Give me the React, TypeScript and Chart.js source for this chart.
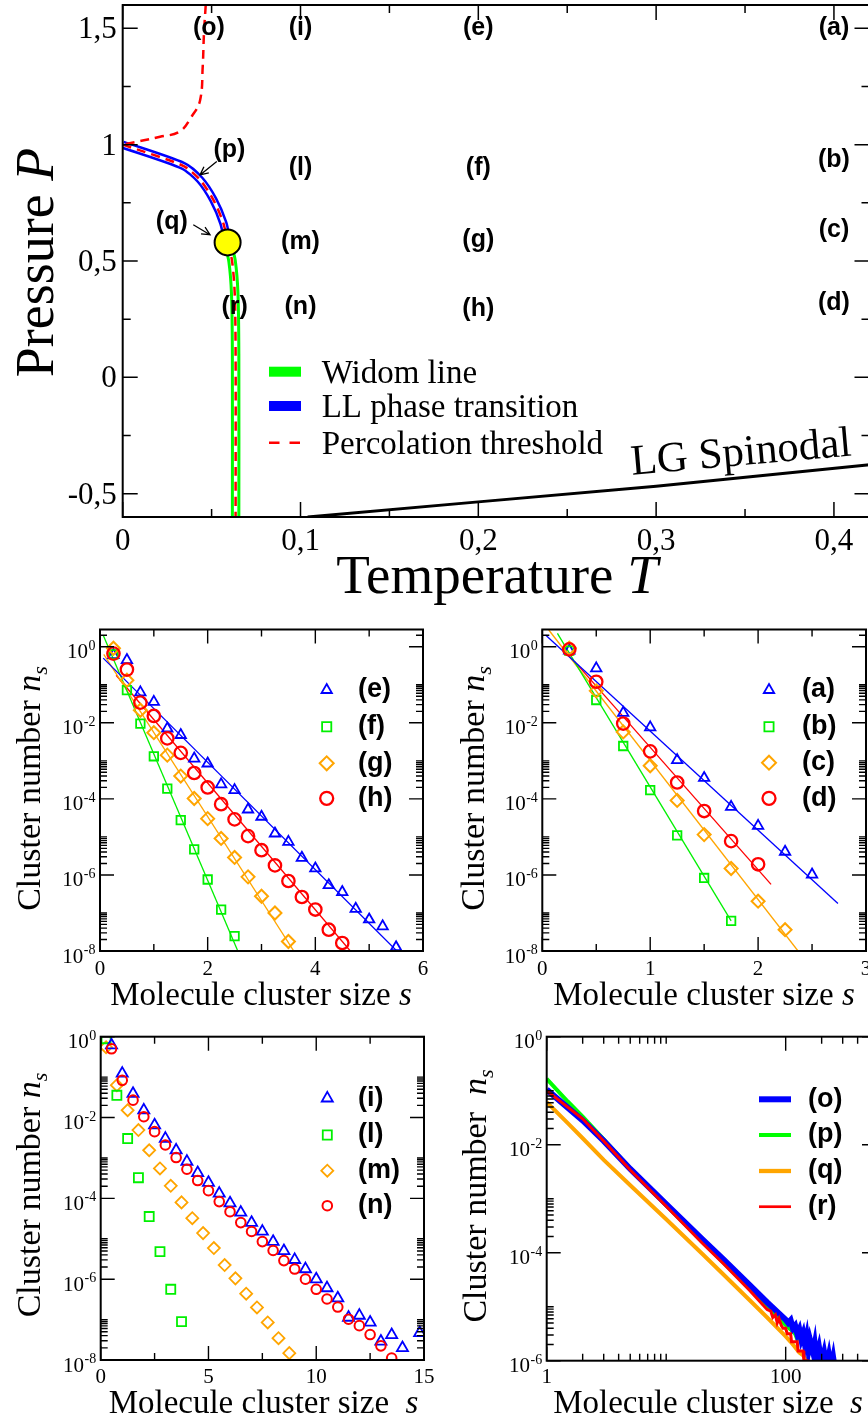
import React, { useEffect, useRef } from 'react';
import { Chart, registerables } from 'chart.js';

Chart.register(...registerables);

const SERIF = "'Liberation Serif', 'Times New Roman', serif";
const SANS = "'Liberation Sans', Arial, sans-serif";
const BLUE = '#0000ff';
const GREEN = '#00f000';
const ORANGE = '#ffa500';
const RED = '#ff0000';

/* ================= top panel : phase diagram ================= */
const tempTicks = [0, 0.1, 0.2, 0.3, 0.4];
const tempTickLabels = ['0', '0,1', '0,2', '0,3', '0,4'];
const tempMinorTicks = [0.05, 0.15, 0.25, 0.35];
const pressTicks = [-0.5, 0, 0.5, 1, 1.5];
const pressTickLabels = ['-0,5', '0', '0,5', '1', '1,5'];
const pressMinorTicks = [-0.25, 0.25, 0.75, 1.25];

const llT = [0, 0.034, 0.0435, 0.051, 0.0566, 0.059];
const llP = [1.0, 0.909, 0.849, 0.763, 0.663, 0.58];
const widomT = [0.059, 0.0615, 0.063, 0.0635, 0.0635];
const widomP = [0.58, 0.5, 0.36, 0.1, -0.6];
const percT = [0.0467, 0.0457, 0.045, 0.0435, 0.0388, 0.032, 0.021, 0];
const percP = [1.6, 1.478, 1.335, 1.19, 1.121, 1.056, 1.034, 1.0];
const spinT = [0.104, 0.2, 0.3, 0.42];
const spinP = [-0.6, -0.535, -0.468, -0.375];
const critT = [0.059];
const critP = [0.58];

const stateNames = ['(o)', '(i)', '(e)', '(a)', '(p)', '(l)', '(f)', '(b)', '(q)', '(m)', '(g)', '(c)', '(r)', '(n)', '(h)', '(d)'];
const stateT = [0.0485, 0.1, 0.2, 0.4, 0.06, 0.1, 0.2, 0.4, 0.0276, 0.1, 0.2, 0.4, 0.063, 0.1, 0.2, 0.4];
const stateP = [1.5, 1.5, 1.5, 1.5, 0.978, 0.9, 0.9, 0.935, 0.666, 0.583, 0.59, 0.634, 0.3, 0.304, 0.295, 0.32];
const arrowFromT = [0.0529, 0.0397];
const arrowFromP = [0.9275, 0.656];
const arrowToT = [0.0435, 0.0491];
const arrowToP = [0.87, 0.613];
const phaseLegend = ['Widom line', 'LL phase transition', 'Percolation threshold'];

/* ================= cluster panels ================= */
const sQuarter = [0.25, 0.5, 0.75, 1, 1.25, 1.5, 1.75, 2, 2.25, 2.5, 2.75, 3, 3.25, 3.5, 3.75, 4, 4.25, 4.5, 4.75, 5, 5.25, 5.5];
// panel (e)-(h): log10 of n_s
const logNsE = [-0.22, -0.35, -1.2, -1.45, -2.15, -2.32, -2.94, -3.07, -3.62, -3.77, -4.28, -4.47, -4.91, -5.13, -5.55, -5.83, -6.27, -6.45, -6.89, -7.17, -7.35, -7.9];
const logNsF = [-0.2, -1.14, -2.02, -2.88, -3.73, -4.56, -5.33, -6.12, -6.91, -7.61];
const logNsG = [-0.04, -0.88, -1.67, -2.26, -2.85, -3.4, -3.99, -4.52, -5.04, -5.54, -6.05, -6.56, -7.0, -7.75];
const logNsH = [-0.18, -0.6, -1.47, -1.82, -2.41, -2.79, -3.32, -3.7, -4.14, -4.54, -4.98, -5.35, -5.75, -6.16, -6.58, -6.91, -7.44, -7.79];
const fitES = [0.06, 5.55]; const fitELog = [-0.3, -8.05];
const fitFS = [0.06, 2.56]; const fitFLog = [0.3, -8.0];
const fitGS = [0.07, 3.6]; const fitGLog = [-0.2, -8.0];
const fitHS = [0.3, 4.65]; const fitHLog = [-0.75, -8.0];

// panel (a)-(d)
const logNsA = [-0.1, -0.57, -1.74, -2.12, -2.98, -3.45, -4.21, -4.71, -5.39, -5.99];
const logNsB = [-0.1, -1.4, -2.61, -3.77, -4.96, -6.08, -7.21];
const logNsC = [-0.04, -1.16, -2.24, -3.13, -4.04, -4.94, -5.83, -6.69, -7.44];
const logNsD = [-0.07, -0.92, -2.02, -2.75, -3.57, -4.32, -5.11, -5.72];
const fitAS = [0.03, 2.74]; const fitALog = [0.31, -6.75];
const fitBS = [0.14, 1.75]; const fitBLog = [0.35, -7.21];
const fitCS = [0.06, 2.37]; const fitCLog = [0.44, -8.0];
const fitDS = [0.3, 2.12]; const fitDLog = [-0.39, -6.25];

// panel (i),(l),(m),(n)
const sHalf = [0.5, 1, 1.5, 2, 2.5, 3, 3.5, 4, 4.5, 5, 5.5, 6, 6.5, 7, 7.5, 8, 8.5, 9, 9.5, 10, 10.5, 11, 11.5, 12, 12.5, 13, 13.5, 14, 14.8];
const sOdd = [0.25, 0.75, 1.25, 1.75, 2.25, 2.75, 3.25, 3.75, 4.25, 4.75, 5.25, 5.75, 6.25, 6.75, 7.25, 7.75, 8.25, 8.75];
const logNsI = [-0.21, -0.91, -1.41, -1.82, -2.19, -2.52, -2.81, -3.09, -3.37, -3.61, -3.88, -4.12, -4.35, -4.6, -4.82, -5.07, -5.3, -5.52, -5.75, -6.0, -6.22, -6.47, -6.95, -6.9, -7.07, -7.54, -7.38, -7.7, -7.33];
const logNsN = [-0.3, -1.08, -1.57, -1.98, -2.35, -2.68, -2.99, -3.28, -3.56, -3.81, -4.08, -4.33, -4.6, -4.82, -5.07, -5.29, -5.54, -5.75, -6.0, -6.25, -6.49, -6.69, -6.99, -7.15, -7.37, -7.65, -7.95];
const logNsL = [-0.05, -1.45, -2.52, -3.49, -4.45, -5.32, -6.25, -7.05];
const logNsM = [-0.26, -1.2, -1.82, -2.31, -2.81, -3.26, -3.69, -4.1, -4.49, -4.86, -5.23, -5.65, -5.98, -6.36, -6.7, -7.07, -7.46, -7.83];

// panel (o)-(r), log-log
const sO = [1, 2, 3, 5, 10, 20, 30, 50, 70, 100, 105, 110, 115, 120, 125, 130, 135, 140, 145, 150, 155, 160, 170, 175, 180, 190, 200, 210, 220, 230, 240, 250, 260, 270];
const logNsO = [-0.98, -1.55, -1.93, -2.45, -3.1, -3.75, -4.12, -4.6, -4.92, -5.24, -5.3, -5.25, -5.4, -5.35, -5.5, -5.42, -5.6, -5.5, -5.7, -5.55, -5.8, -5.62, -5.85, -5.7, -5.95, -5.75, -6.05, -5.85, -6.1, -5.9, -6.15, -5.95, -6.2, -6.1];
const sP = [1, 1.5, 2, 3, 5, 10, 20, 30, 50, 70, 100, 110, 120, 125, 130, 140, 150, 160, 170, 180, 190, 200, 215, 230];
const logNsP = [-0.78, -1.2, -1.48, -1.9, -2.44, -3.12, -3.8, -4.18, -4.67, -5.0, -5.34, -5.42, -5.5, -5.6, -5.55, -5.68, -5.72, -5.85, -5.78, -5.95, -5.85, -6.05, -5.95, -6.1];
const sQ = [1, 1.5, 2, 3, 5, 10, 20, 30, 50, 70, 100, 110, 120, 130, 140, 150, 160];
const logNsQ = [-1.21, -1.6, -1.88, -2.28, -2.75, -3.38, -4.02, -4.4, -4.88, -5.2, -5.55, -5.65, -5.75, -5.85, -5.9, -6.0, -6.05];
const sR = [1, 2, 3, 5, 10, 20, 30, 50, 70, 75, 78, 82, 85, 88, 92, 95, 100, 103, 110, 112, 125, 127, 140, 142, 155];
const logNsR = [-1.0, -1.52, -1.93, -2.47, -3.14, -3.82, -4.2, -4.7, -5.05, -5.08, -5.2, -5.15, -5.3, -5.22, -5.35, -5.4, -5.4, -5.5, -5.5, -5.65, -5.65, -5.82, -5.82, -6.0, -6.0];

const linXTicksA = [0, 2, 4, 6]; const linXMinorA = [1, 3, 5];
const linXTicksB = [0, 1, 2, 3]; const linXMinorB = [0.5, 1.5, 2.5];
const linXTicksC = [0, 5, 10, 15]; const linXMinorC = [2.5, 7.5, 12.5];
const logXTicksD = [1, 100]; const logXLabelsD = ['1', '100'];
const yTicks8 = [1e-8, 1e-6, 1e-4, 1e-2, 1];
const yExps8 = ['-8', '-6', '-4', '-2', '0'];
const yTicks6 = [1e-6, 1e-4, 1e-2, 1];
const yExps6 = ['-6', '-4', '-2', '0'];
const legendA = ['(e)', '(f)', '(g)', '(h)'];
const legendB = ['(a)', '(b)', '(c)', '(d)'];
const legendC = ['(i)', '(l)', '(m)', '(n)'];
const legendD = ['(o)', '(p)', '(q)', '(r)'];

/* ================= helpers ================= */
const pts = (xs: number[], ys: number[]) => ys.map((y, i) => ({ x: xs[i], y }));
const ptsLog = (xs: number[], ls: number[]) => ls.map((l, i) => ({ x: xs[i], y: Math.pow(10, l) }));

function minorLog(fromExp: number, toExp: number) {
  const out: number[] = [];
  for (let e = fromExp; e <= toExp; e += 2) for (let k = 2; k <= 10; k++) out.push(k * Math.pow(10, e));
  return out;
}

type Seg = { t: string; f: string; dy?: number };
function rich(ctx: CanvasRenderingContext2D, segs: Seg[], x: number, y: number, rot: number) {
  ctx.save();
  ctx.translate(x, y);
  ctx.rotate(rot);
  ctx.textAlign = 'left';
  ctx.textBaseline = 'alphabetic';
  const ws = segs.map((s) => { ctx.font = s.f; return ctx.measureText(s.t).width; });
  let cx = -ws.reduce((a, b) => a + b, 0) / 2;
  segs.forEach((s, i) => { ctx.font = s.f; ctx.fillText(s.t, cx, s.dy || 0); cx += ws[i]; });
  ctx.restore();
}

function drawMarker(ctx: CanvasRenderingContext2D, kind: string, x: number, y: number, r: number, color: string, lw: number) {
  ctx.save();
  ctx.strokeStyle = color;
  ctx.lineWidth = lw;
  ctx.beginPath();
  if (kind === 'triangle') {
    for (let k = 0; k < 3; k++) {
      const a = (k * 2 * Math.PI) / 3;
      const px = x + Math.sin(a) * r, py = y - Math.cos(a) * r;
      if (k === 0) ctx.moveTo(px, py); else ctx.lineTo(px, py);
    }
    ctx.closePath();
  } else if (kind === 'rect') {
    const s = r * Math.SQRT1_2;
    ctx.rect(x - s, y - s, 2 * s, 2 * s);
  } else if (kind === 'rectRot') {
    ctx.moveTo(x - r, y); ctx.lineTo(x, y - r); ctx.lineTo(x + r, y); ctx.lineTo(x, y + r); ctx.closePath();
  } else {
    ctx.arc(x, y, r, 0, Math.PI * 2);
  }
  ctx.stroke();
  ctx.restore();
}

function arrow(ctx: CanvasRenderingContext2D, x1: number, y1: number, x2: number, y2: number) {
  const a = Math.atan2(y2 - y1, x2 - x1), L = 9;
  ctx.beginPath();
  ctx.moveTo(x1, y1); ctx.lineTo(x2, y2);
  ctx.moveTo(x2 - L * Math.cos(a - 0.45), y2 - L * Math.sin(a - 0.45));
  ctx.lineTo(x2, y2);
  ctx.lineTo(x2 - L * Math.cos(a + 0.45), y2 - L * Math.sin(a + 0.45));
  ctx.stroke();
}

type Geo = { X: (v: number) => number; Y: (v: number) => number; l: number; r: number; t: number; b: number };
type Frame = {
  ox: number; oy: number;
  xMajor: number[]; xMinor: number[]; yMajor: number[]; yMinor: number[];
  majorLen: number; minorLen: number; borderW: number; tickW: number;
  extra: (ctx: CanvasRenderingContext2D, g: Geo) => void;
};

function framePlugin(f: Frame) {
  return {
    id: 'frame',
    afterDatasetsDraw(chart: any) {
      const ctx: CanvasRenderingContext2D = chart.ctx;
      const xs = chart.scales.x, ys = chart.scales.y, a = chart.chartArea;
      const g: Geo = {
        X: (v) => xs.getPixelForValue(v) + f.ox,
        Y: (v) => ys.getPixelForValue(v) + f.oy,
        l: a.left + f.ox, r: a.right + f.ox, t: a.top + f.oy, b: a.bottom + f.oy,
      };
      ctx.save();
      ctx.translate(-f.ox, -f.oy);
      ctx.strokeStyle = '#000';
      ctx.lineWidth = f.tickW;
      ctx.beginPath();
      const vx = (vals: number[], len: number) => vals.forEach((v) => {
        const x = g.X(v);
        if (x < g.l - 0.5 || x > g.r + 0.5) return;
        ctx.moveTo(x, g.b); ctx.lineTo(x, g.b - len);
        ctx.moveTo(x, g.t); ctx.lineTo(x, g.t + len);
      });
      const vy = (vals: number[], len: number) => vals.forEach((v) => {
        const y = g.Y(v);
        if (y < g.t - 0.5 || y > g.b + 0.5) return;
        ctx.moveTo(g.l, y); ctx.lineTo(g.l + len, y);
        ctx.moveTo(g.r, y); ctx.lineTo(g.r - len, y);
      });
      vx(f.xMajor, f.majorLen); vx(f.xMinor, f.minorLen);
      vy(f.yMajor, f.majorLen); vy(f.yMinor, f.minorLen);
      ctx.stroke();
      ctx.lineWidth = f.borderW;
      ctx.strokeRect(g.l, g.t, g.r - g.l, g.b - g.t);
      ctx.fillStyle = '#000';
      f.extra(ctx, g);
      ctx.restore();
    },
  };
}

function lineDs(data: any[], color: string, width: number, order: number, extra: any = {}) {
  return { data, borderColor: color, borderWidth: width, pointRadius: 0, fill: false, tension: 0, clip: 0, order, ...extra };
}
function markDs(data: any[], color: string, style: string, r: number, order: number, lw = 1.8) {
  return {
    data, showLine: false, borderColor: color, pointStyle: style, pointRadius: r, pointHoverRadius: r,
    pointBorderColor: color, pointBackgroundColor: 'rgba(0,0,0,0)', pointBorderWidth: lw, order,
  };
}

function config(pad: any, xs: any, ys: any, datasets: any[], frame: Frame) {
  return {
    type: 'line',
    data: { datasets },
    options: {
      responsive: false,
      animation: false,
      events: [],
      layout: { padding: pad, autoPadding: false },
      plugins: { legend: { display: false }, tooltip: { enabled: false } },
      scales: { x: { ...xs, display: false }, y: { ...ys, display: false } },
    },
    plugins: [framePlugin(frame)],
  };
}

type LegItem = { label: string; color: string; kind: string; r: number; lw: number };
type Decor = {
  xVals: number[]; xLabels: string[]; xLabOff: number; yVals: number[]; yExps: string[];
  xTitle: Seg[]; xTitleX: number; xTitleY: number; yTitle: Seg[]; yTitleX: number; yTitleY: number;
  legend: LegItem[]; legMarkX: number; legTextX: number; legRows: number[];
};
function panelDecor(p: Decor) {
  return (ctx: CanvasRenderingContext2D, g: Geo) => {
    ctx.fillStyle = '#000';
    ctx.font = `21px ${SERIF}`;
    ctx.textAlign = 'center';
    ctx.textBaseline = 'alphabetic';
    p.xVals.forEach((v, i) => ctx.fillText(p.xLabels[i], g.X(v), g.b + p.xLabOff));
    ctx.textAlign = 'right';
    p.yVals.forEach((v, i) => {
      const y = g.Y(v);
      ctx.font = `14px ${SERIF}`;
      const w = ctx.measureText(p.yExps[i]).width;
      ctx.fillText(p.yExps[i], g.l - 4.5, y + 3);
      ctx.font = `21px ${SERIF}`;
      ctx.fillText('10', g.l - 4.5 - w - 0.5, y + 11.5);
    });
    rich(ctx, p.xTitle, p.xTitleX, p.xTitleY, 0);
    rich(ctx, p.yTitle, p.yTitleX, p.yTitleY, -Math.PI / 2);
    p.legend.forEach((it, i) => {
      const y = p.legRows[i];
      if (it.kind === 'line') {
        ctx.strokeStyle = it.color; ctx.lineWidth = it.lw;
        ctx.beginPath(); ctx.moveTo(p.legMarkX - 16, y); ctx.lineTo(p.legMarkX + 16, y); ctx.stroke();
      } else {
        drawMarker(ctx, it.kind, p.legMarkX, y, it.r, it.color, it.lw);
      }
      ctx.fillStyle = '#000';
      ctx.font = `bold 27px ${SANS}`;
      ctx.textAlign = 'left';
      ctx.textBaseline = 'middle';
      ctx.fillText(it.label, p.legTextX, y);
    });
  };
}

const xTitleSegs = (extraSpace: boolean): Seg[] => [
  { t: extraSpace ? 'Molecule cluster size  ' : 'Molecule cluster size ', f: `33px ${SERIF}` },
  { t: 's', f: `italic 33px ${SERIF}` },
];
const yTitleSegs = (extraSpace: boolean): Seg[] => [
  { t: extraSpace ? 'Cluster number  ' : 'Cluster number ', f: `34px ${SERIF}` },
  { t: 'n', f: `italic 34px ${SERIF}` },
  { t: 's', f: `italic 22px ${SERIF}`, dy: 7 },
];

/* ================= chart specs ================= */
type Spec = { ox: number; oy: number; w: number; h: number; make: () => any };

const topSpec: Spec = {
  ox: 0, oy: 0, w: 900, h: 612,
  make: () => config(
    { left: 122.7, top: 5, right: 30.5, bottom: 95 },
    { type: 'linear', min: 0, max: 0.42 },
    { type: 'linear', min: -0.6, max: 1.6 },
    [
      lineDs(pts(spinT, spinP), '#000', 3, 10),
      lineDs(pts(llT, llP), BLUE, 8.5, 9, { tension: 0.25 }),
      lineDs(pts(widomT, widomP), '#00ff00', 9.5, 8, { tension: 0.3 }),
      lineDs(pts(llT, llP), '#ffffff', 3.5, 7, { tension: 0.25 }),
      lineDs(pts(widomT, widomP), '#ffffff', 3.5, 7, { tension: 0.3 }),
      lineDs(pts(percT, percP), RED, 2.5, 6, { tension: 0.4, borderDash: [9, 6] }),
      lineDs(pts(llT, llP), RED, 2.5, 6, { tension: 0.25, borderDash: [9, 6] }),
      lineDs(pts(widomT, widomP), RED, 2.5, 6, { tension: 0.3, borderDash: [9, 6] }),
      {
        data: pts(critT, critP), showLine: false, pointRadius: 13, pointHoverRadius: 13, pointStyle: 'circle',
        pointBackgroundColor: '#ffff00', pointBorderColor: '#000', pointBorderWidth: 2, borderColor: '#000', order: 1,
      },
    ],
    {
      ox: 0, oy: 0,
      xMajor: tempTicks, xMinor: tempMinorTicks, yMajor: pressTicks, yMinor: pressMinorTicks,
      majorLen: 15, minorLen: 8, borderW: 2, tickW: 1.5,
      extra: (ctx, g) => {
        ctx.fillStyle = '#000';
        ctx.font = `31px ${SERIF}`;
        ctx.textAlign = 'center';
        ctx.textBaseline = 'alphabetic';
        tempTicks.forEach((v, i) => ctx.fillText(tempTickLabels[i], g.X(v), g.b + 33));
        ctx.textAlign = 'right';
        pressTicks.forEach((v, i) => ctx.fillText(pressTickLabels[i], g.l - 6, g.Y(v) + 10));
        rich(ctx, [{ t: 'Temperature ', f: `55px ${SERIF}` }, { t: 'T', f: `italic 55px ${SERIF}` }], 497, 593, 0);
        rich(ctx, [{ t: 'Pressure ', f: `54px ${SERIF}` }, { t: 'P', f: `italic 54px ${SERIF}` }], 53, 262.5, -Math.PI / 2);
        ctx.font = `bold 25px ${SANS}`;
        ctx.textAlign = 'center';
        ctx.textBaseline = 'middle';
        stateNames.forEach((s, i) => ctx.fillText(s, g.X(stateT[i]), g.Y(stateP[i])));
        ctx.strokeStyle = '#000';
        ctx.lineWidth = 1.3;
        arrowFromT.forEach((_, i) => arrow(ctx, g.X(arrowFromT[i]), g.Y(arrowFromP[i]), g.X(arrowToT[i]), g.Y(arrowToP[i])));
        // legend
        const rows = [371.7, 406, 442.7];
        ctx.lineWidth = 10;
        ctx.strokeStyle = '#00ff00';
        ctx.beginPath(); ctx.moveTo(269, rows[0]); ctx.lineTo(301, rows[0]); ctx.stroke();
        ctx.strokeStyle = BLUE;
        ctx.beginPath(); ctx.moveTo(269, rows[1]); ctx.lineTo(301, rows[1]); ctx.stroke();
        ctx.lineWidth = 2.5;
        ctx.strokeStyle = RED;
        ctx.setLineDash([10.5, 10]);
        ctx.beginPath(); ctx.moveTo(269, rows[2]); ctx.lineTo(301, rows[2]); ctx.stroke();
        ctx.setLineDash([]);
        ctx.fillStyle = '#000';
        ctx.font = `33px ${SERIF}`;
        ctx.textAlign = 'left';
        ctx.textBaseline = 'alphabetic';
        phaseLegend.forEach((n, i) => ctx.fillText(n, 321.7, rows[i] + 11));
        // LG spinodal label
        ctx.save();
        ctx.translate(g.X(0.3483), g.Y(-0.377));
        ctx.rotate((-5 * Math.PI) / 180);
        ctx.font = `43px ${SERIF}`;
        ctx.textAlign = 'center';
        ctx.fillText('LG Spinodal', 0, 0);
        ctx.restore();
      },
    },
  ),
};

const logY8 = { type: 'logarithmic', min: 1e-8, max: 2.84 };

const specA: Spec = {
  ox: 0, oy: 605, w: 434, h: 420,
  make: () => config(
    { left: 100, top: 24.5, right: 11, bottom: 74 },
    { type: 'linear', min: 0, max: 6 },
    logY8,
    [
      markDs(ptsLog(sQuarter, logNsH), RED, 'circle', 6.2, 1, 2.3),
      markDs(ptsLog(sQuarter, logNsG), ORANGE, 'rectRot', 6.5, 2, 2),
      markDs(ptsLog(sQuarter, logNsF), GREEN, 'rect', 6, 3),
      markDs(ptsLog(sQuarter, logNsE), BLUE, 'triangle', 6, 4),
      lineDs(ptsLog(fitES, fitELog), BLUE, 1.3, 10),
      lineDs(ptsLog(fitFS, fitFLog), GREEN, 1.3, 10),
      lineDs(ptsLog(fitGS, fitGLog), ORANGE, 1.3, 10),
      lineDs(ptsLog(fitHS, fitHLog), RED, 1.3, 10),
    ],
    {
      ox: 0, oy: 605, xMajor: linXTicksA, xMinor: linXMinorA, yMajor: yTicks8, yMinor: minorLog(-8, 0),
      majorLen: 14, minorLen: 7, borderW: 2, tickW: 1.4,
      extra: panelDecor({
        xVals: linXTicksA, xLabels: linXTicksA.map(String), xLabOff: 24, yVals: yTicks8, yExps: yExps8,
        xTitle: xTitleSegs(false), xTitleX: 261, xTitleY: 1005, yTitle: yTitleSegs(false), yTitleX: 40, yTitleY: 788.5,
        legend: [
          { label: legendA[0], color: BLUE, kind: 'triangle', r: 6, lw: 1.8 },
          { label: legendA[1], color: GREEN, kind: 'rect', r: 6.5, lw: 1.8 },
          { label: legendA[2], color: ORANGE, kind: 'rectRot', r: 7, lw: 2 },
          { label: legendA[3], color: RED, kind: 'circle', r: 6.5, lw: 2.3 },
        ],
        legMarkX: 326.7, legTextX: 358, legRows: [690, 726.7, 763.3, 798.3],
      }),
    },
  ),
};

const specB: Spec = {
  ox: 434, oy: 605, w: 466, h: 420,
  make: () => config(
    { left: 108.3, top: 24.5, right: 34, bottom: 74 },
    { type: 'linear', min: 0, max: 3 },
    logY8,
    [
      markDs(ptsLog(sQuarter, logNsD), RED, 'circle', 6.2, 1, 2.3),
      markDs(ptsLog(sQuarter, logNsC), ORANGE, 'rectRot', 6.5, 2, 2),
      markDs(ptsLog(sQuarter, logNsB), GREEN, 'rect', 6, 3),
      markDs(ptsLog(sQuarter, logNsA), BLUE, 'triangle', 6, 4),
      lineDs(ptsLog(fitAS, fitALog), BLUE, 1.3, 10),
      lineDs(ptsLog(fitBS, fitBLog), GREEN, 1.3, 10),
      lineDs(ptsLog(fitCS, fitCLog), ORANGE, 1.3, 10),
      lineDs(ptsLog(fitDS, fitDLog), RED, 1.3, 10),
    ],
    {
      ox: 434, oy: 605, xMajor: linXTicksB, xMinor: linXMinorB, yMajor: yTicks8, yMinor: minorLog(-8, 0),
      majorLen: 14, minorLen: 7, borderW: 2, tickW: 1.4,
      extra: panelDecor({
        xVals: linXTicksB, xLabels: linXTicksB.map(String), xLabOff: 24, yVals: yTicks8, yExps: yExps8,
        xTitle: xTitleSegs(false), xTitleX: 704, xTitleY: 1005, yTitle: yTitleSegs(false), yTitleX: 484, yTitleY: 788.5,
        legend: [
          { label: legendB[0], color: BLUE, kind: 'triangle', r: 6, lw: 1.8 },
          { label: legendB[1], color: GREEN, kind: 'rect', r: 6.5, lw: 1.8 },
          { label: legendB[2], color: ORANGE, kind: 'rectRot', r: 7, lw: 2 },
          { label: legendB[3], color: RED, kind: 'circle', r: 6.5, lw: 2.3 },
        ],
        legMarkX: 769, legTextX: 802, legRows: [690, 726.7, 762.7, 798.3],
      }),
    },
  ),
};

const specC: Spec = {
  ox: 0, oy: 1020, w: 434, h: 401,
  make: () => config(
    { left: 100.7, top: 16.7, right: 10, bottom: 61 },
    { type: 'linear', min: 0, max: 15 },
    { type: 'logarithmic', min: 1e-8, max: 1 },
    [
      markDs(ptsLog(sHalf, logNsN), RED, 'circle', 4.8, 1, 2),
      markDs(ptsLog(sHalf, logNsI), BLUE, 'triangle', 6.4, 2),
      markDs(ptsLog(sOdd, logNsL), GREEN, 'rect', 6.4, 3),
      markDs(ptsLog(sOdd, logNsM), ORANGE, 'rectRot', 6, 4),
    ],
    {
      ox: 0, oy: 1020, xMajor: linXTicksC, xMinor: linXMinorC, yMajor: yTicks8, yMinor: minorLog(-8, -2),
      majorLen: 14, minorLen: 7, borderW: 2, tickW: 1.4,
      extra: panelDecor({
        xVals: linXTicksC, xLabels: linXTicksC.map(String), xLabOff: 23, yVals: yTicks8, yExps: yExps8,
        xTitle: xTitleSegs(true), xTitleX: 263.5, xTitleY: 1413, yTitle: yTitleSegs(false), yTitleX: 40, yTitleY: 1195,
        legend: [
          { label: legendC[0], color: BLUE, kind: 'triangle', r: 6.4, lw: 1.8 },
          { label: legendC[1], color: GREEN, kind: 'rect', r: 6.4, lw: 1.8 },
          { label: legendC[2], color: ORANGE, kind: 'rectRot', r: 6, lw: 1.8 },
          { label: legendC[3], color: RED, kind: 'circle', r: 4.8, lw: 2 },
        ],
        legMarkX: 327.3, legTextX: 358, legRows: [1098.3, 1135, 1170.7, 1205.7],
      }),
    },
  ),
};

const specD: Spec = {
  ox: 434, oy: 1020, w: 466, h: 401,
  make: () => config(
    { left: 112.7, top: 16.7, right: 24, bottom: 60.3 },
    { type: 'logarithmic', min: 1, max: 570 },
    { type: 'logarithmic', min: 1e-6, max: 1 },
    [
      lineDs(ptsLog(sR, logNsR), RED, 3, 1),
      lineDs(ptsLog(sO, logNsO), BLUE, 6, 2),
      lineDs(ptsLog(sP, logNsP), '#00ff00', 4, 3),
      lineDs(ptsLog(sQ, logNsQ), ORANGE, 4, 4),
    ],
    {
      ox: 434, oy: 1020, xMajor: logXTicksD, xMinor: minorLog(0, 2), yMajor: yTicks6, yMinor: minorLog(-6, -2),
      majorLen: 14, minorLen: 7, borderW: 2, tickW: 1.4,
      extra: panelDecor({
        xVals: logXTicksD, xLabels: logXLabelsD, xLabOff: 22, yVals: yTicks6, yExps: yExps6,
        xTitle: xTitleSegs(true), xTitleX: 708, xTitleY: 1413, yTitle: yTitleSegs(true), yTitleX: 486, yTitleY: 1196,
        legend: [
          { label: legendD[0], color: BLUE, kind: 'line', r: 0, lw: 6 },
          { label: legendD[1], color: '#00ff00', kind: 'line', r: 0, lw: 4 },
          { label: legendD[2], color: ORANGE, kind: 'line', r: 0, lw: 4.3 },
          { label: legendD[3], color: RED, kind: 'line', r: 0, lw: 2.7 },
        ],
        legMarkX: 775, legTextX: 808, legRows: [1099.3, 1135, 1171, 1206.7],
      }),
    },
  ),
};

const specs = [topSpec, specA, specB, specC, specD];

function ChartBox({ spec }: { spec: Spec }) {
  const ref = useRef<HTMLCanvasElement | null>(null);
  useEffect(() => {
    const chart = new Chart(ref.current as HTMLCanvasElement, spec.make());
    return () => chart.destroy();
  }, [spec]);
  return (
    <canvas
      ref={ref}
      width={spec.w}
      height={spec.h}
      style={{ position: 'absolute', left: spec.ox, top: spec.oy, width: spec.w, height: spec.h }}
    />
  );
}

export default function App() {
  return (
    <div style={{ position: 'absolute', left: 0, top: 0, width: 868, height: 1421, overflow: 'hidden', background: '#ffffff' }}>
      {specs.map((s, i) => (
        <ChartBox key={i} spec={s} />
      ))}
    </div>
  );
}
